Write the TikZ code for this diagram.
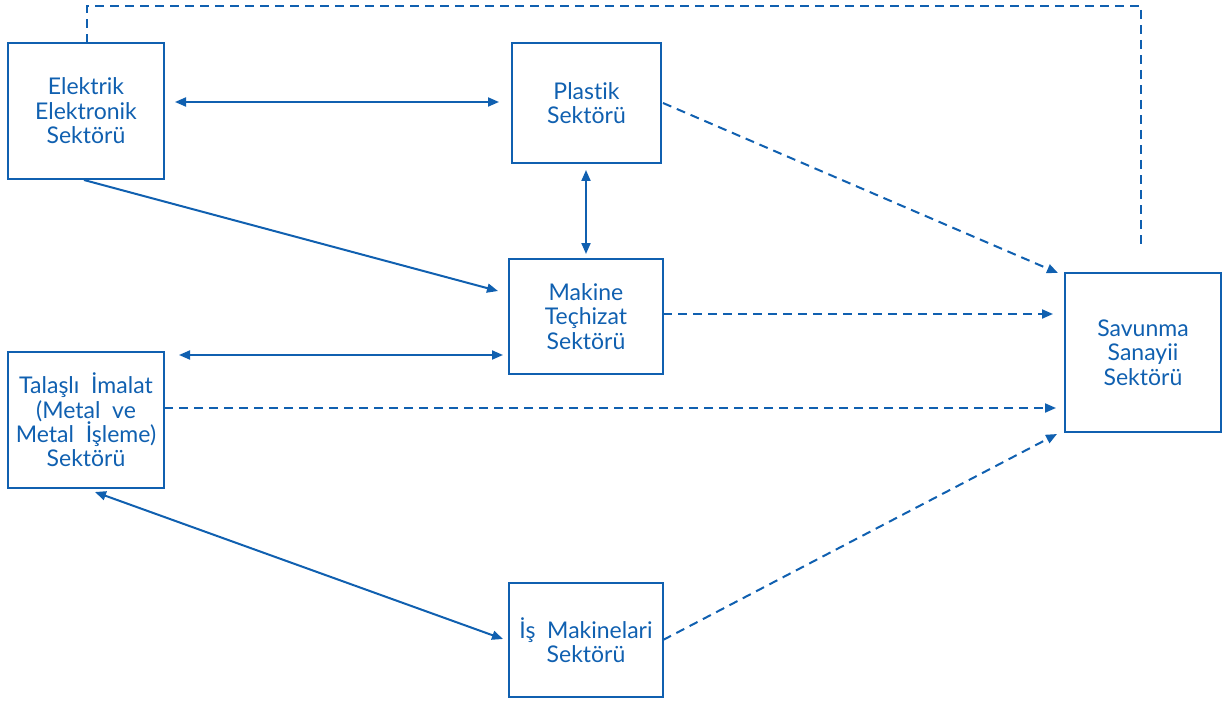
\documentclass[tikz,border=0pt]{standalone}
\usepackage{fontspec}
\setmainfont[Ligatures={NoCommon,NoRare}]{Lato}
\usetikzlibrary{arrows.meta}
\definecolor{db}{HTML}{1060B0}
\begin{document}
\begin{tikzpicture}[x=0.5pt,y=-0.5pt,
  box/.style={draw=db,line width=1pt,inner sep=0pt,text=db,align=center,
    font=\fontsize{11.5}{12.2}\selectfont},
  link/.style={draw=db,line width=1pt},
  dlink/.style={link,dash pattern=on 4.5pt off 3pt},
  tip/.style={-{Triangle[length=5.5pt,width=4.5pt]}},
  tips/.style={{Triangle[length=5.5pt,width=4.5pt]}-{Triangle[length=5.5pt,width=4.5pt]}}]
\useasboundingbox (0,0) rectangle (1222,701);
\node[box,minimum width=78pt,minimum height=68pt] (ee) at (86,111) {Elektrik\\Elektronik\\Sektörü};
\node[box,minimum width=74.5pt,minimum height=60pt] (pl) at (586.5,103) {Plastik\\Sektörü};
\node[box,minimum width=77pt,minimum height=57.5pt] (mk) at (586,316.5) {Makine\\Teçhizat\\Sektörü};
\node[box,minimum width=78pt,minimum height=68pt] (ti) at (86,420) {Talaşlı\ \ İmalat\\(Metal\ \ ve\\Metal\ \ İşleme)\\Sektörü};
\node[box,minimum width=77pt,minimum height=57pt] (is) at (586,640) {İş\ \ Makinelari\\Sektörü};
\node[box,minimum width=78pt,minimum height=79.5pt] (sv) at (1143,352.5) {Savunma\\Sanayii\\Sektörü};
% solid connectors
\coordinate (a1) at (175,102); \coordinate (a2) at (499,102);
\draw[link,tips] (a1) -- (a2);
\coordinate (b1) at (586,170); \coordinate (b2) at (586,254);
\draw[link,tips] (b1) -- (b2);
\coordinate (c1) at (84,180); \coordinate (c2) at (498,291);
\draw[link,tip] (c1) -- (c2);
\coordinate (d1) at (179,355); \coordinate (d2) at (503,355);
\draw[link,tips] (d1) -- (d2);
\coordinate (e1) at (95,492); \coordinate (e2) at (503,639);
\draw[link,tips] (e1) -- (e2);
% dashed connectors
\coordinate (f1) at (164,408); \coordinate (f2) at (1056,408);
\draw[dlink,tip] (f1) -- (f2);
\coordinate (g1) at (663,103); \coordinate (g2) at (1058,273);
\draw[dlink,tip] (g1) -- (g2);
\coordinate (h1) at (663,314); \coordinate (h2) at (1053,314);
\draw[dlink,tip] (h1) -- (h2);
\coordinate (i1) at (663,640); \coordinate (i2) at (1057,434);
\draw[dlink,tip] (i1) -- (i2);
\coordinate (j1) at (87,43); \coordinate (j2) at (1141,248);
\draw[dlink] (j1) -- (87,6) -- (1141,6) -- (j2);
\end{tikzpicture}
\end{document}
